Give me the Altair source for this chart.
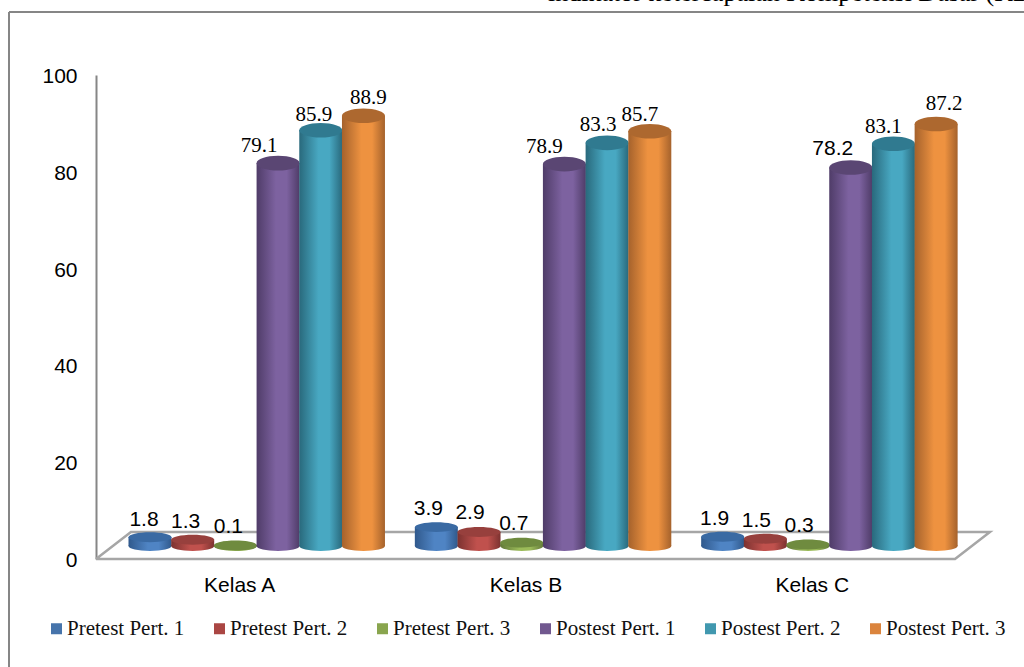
import json

import altair as alt
import pandas as pd

# Values per class, one list per test session
kelas = ["Kelas A", "Kelas B", "Kelas C"]
seri = ["Pretest Pert. 1", "Pretest Pert. 2", "Pretest Pert. 3",
        "Postest Pert. 1", "Postest Pert. 2", "Postest Pert. 3"]
pretest_1 = [1.8, 3.9, 1.9]
pretest_2 = [1.3, 2.9, 1.5]
pretest_3 = [0.1, 0.7, 0.3]
postest_1 = [79.1, 78.9, 78.2]
postest_2 = [85.9, 83.3, 83.1]
postest_3 = [88.9, 85.7, 87.2]
nilai = [pretest_1, pretest_2, pretest_3, postest_1, postest_2, postest_3]

warna = ["#4674AB", "#AA4643", "#89A54E", "#71588F", "#4198AF", "#DB843D"]
tepi = ["#30598c", "#7c3230", "#63793a", "#4f3c68", "#29697c", "#a5622c"]
terang = ["#4f84c4", "#c0514d", "#9bbb59", "#7d62a0", "#48a8c2", "#ee9240"]
tutup = ["#3a6aa3", "#97403d", "#6f8b3f", "#5a4673", "#307a90", "#ad682f"]

# Nudges (px) that keep each value label clear of its neighbour, per session then class
geser_x = [[-6, -8, -8], [-7, -9, -9], [-7, -8, -9],
           [-19, -20, -18], [-7, -9, -10], [5, -10, 8]]
geser_y = [[1, 0, 1], [1, 0, 1], [0, 0, 0],
           [0, 0, 0], [2, -1, 0], [-1, 1, -3]]
# Labels set in the serif face, as session/class pairs
serif = {(3, 0), (4, 0), (5, 0), (3, 1), (4, 1), (5, 1), (4, 2), (5, 2)}

LEBAR, TINGGI = 859, 484
PX_X, PX_Y = LEBAR / 3, TINGGI / 100
LEBAR_TABUNG = 43
NAIK = -13  # cylinders stand on the floor, above the front edge

baris = []
for j, s in enumerate(seri):
    for i, k in enumerate(kelas):
        baris.append({
            "kelas": k, "seri": s, "j": j, "nilai": nilai[j][i], "dasar": 0,
            "posisi": i + 0.1886 + 0.1491 * j,
            "label_x": i + 0.1886 + 0.1491 * j + geser_x[j][i] / PX_X,
            "label_y": nilai[j][i] - geser_y[j][i] / PX_Y,
            "huruf": "serif" if (j, i) in serif else "sans",
        })
df = pd.DataFrame(baris)

warna_rangka = "#a6a6a6"
warna_sumbu = "#868686"

skala_x = alt.Scale(domain=[0, 3], nice=False, zero=False, padding=0)
skala_y = alt.Scale(domain=[0, 100], nice=False, padding=0)

sumbu_x = alt.Axis(
    values=[0.5, 1.5, 2.5],
    labelExpr=json.dumps(kelas) + "[floor(datum.value)]",
    title=None, grid=False, domain=False, ticks=False,
    labelFont="Liberation Sans", labelFontSize=21,
    labelColor="#000000", labelPadding=15,
)
sumbu_y = alt.Axis(
    values=[0, 20, 40, 60, 80, 100],
    title=None, grid=False, ticks=False,
    domainColor=warna_sumbu, domainWidth=2,
    labelFont="Liberation Sans", labelFontSize=21,
    labelColor="#000000", labelPadding=19, labelOffset=1.5,
)


def sb_x(kolom="posisi"):
    return alt.X(f"{kolom}:Q", scale=skala_x, axis=sumbu_x, title=None)


def sb_y(kolom="nilai"):
    return alt.Y(f"{kolom}:Q", scale=skala_y, axis=sumbu_y, title=None, stack=None)


def gradasi(j):
    return {
        "gradient": "linear", "x1": 0, "x2": 1, "y1": 0, "y2": 0,
        "stops": [
            {"offset": 0, "color": tepi[j]},
            {"offset": 0.45, "color": terang[j]},
            {"offset": 0.7, "color": terang[j]},
            {"offset": 1, "color": tepi[j]},
        ],
    }


def elips(rasio):
    return f"M-1,0A1,{rasio} 0 1 1 1,0A1,{rasio} 0 1 1 -1,0Z"


# Floor of the 3D box, walked around its four corners
lantai = pd.DataFrame({
    "u": [0, 3, 3.122, 0.122, 0],
    "v": [0, 0, 5.6, 5.6, 0],
    "urut": [0, 1, 2, 3, 4],
})

# Foot of every cylinder, in pixels from the top of the plot
KAKI = alt.value(TINGGI + NAIK)

lapisan = [
    alt.Chart(lantai).mark_line(color=warna_rangka, strokeWidth=2.5).encode(
        x=sb_x("u"), y=sb_y("v"), order="urut:Q",
    ),
    # Flat bars carry the legend colours; the shaded cylinders sit on top of them
    alt.Chart(df).mark_bar(
        orient="vertical", size=LEBAR_TABUNG - 4, yOffset=NAIK,
    ).encode(
        x=sb_x(),
        y=sb_y(),
        y2=KAKI,
        color=alt.Color(
            "seri:N",
            scale=alt.Scale(domain=seri, range=warna),
            legend=alt.Legend(
                title=None, orient="none", direction="horizontal",
                legendX=-50, legendY=543, columns=6,
                symbolType="square", symbolSize=121, symbolStrokeWidth=0,
                symbolOpacity=1, labelOffset=0, columnPadding=24,
                labelFont="Liberation Serif", labelFontSize=21,
                labelColor="#111111", labelLimit=0, gridAlign="each",
            ),
        ),
    ),
]

for j in range(len(seri)):
    bagian = df[df["j"] == j]
    rasio_atas = 0.23 if j < 3 else 0.34
    lapisan += [
        alt.Chart(bagian).mark_point(
            shape=elips(0.23), size=LEBAR_TABUNG ** 2, filled=True, fill=gradasi(j),
            opacity=1, strokeWidth=0, yOffset=NAIK,
        ).encode(x=sb_x(), y=sb_y("dasar")),
        alt.Chart(bagian).mark_bar(
            orient="vertical", size=LEBAR_TABUNG, color=gradasi(j), yOffset=NAIK,
        ).encode(x=sb_x(), y=sb_y(), y2=KAKI),
        alt.Chart(bagian).mark_point(
            shape=elips(rasio_atas), size=LEBAR_TABUNG ** 2, filled=True, fill=tutup[j],
            opacity=1, strokeWidth=0, yOffset=NAIK,
        ).encode(x=sb_x(), y=sb_y()),
    ]

for jenis, keluarga, naik_teks in [("serif", "Liberation Serif", -17), ("sans", "Liberation Sans", -18.5)]:
    lapisan.append(
        alt.Chart(df[df["huruf"] == jenis]).mark_text(
            font=keluarga, fontSize=21, color="#000000", baseline="middle",
            yOffset=NAIK + naik_teks,
        ).encode(
            x=sb_x("label_x"), y=sb_y("label_y"),
            text=alt.Text("nilai:Q", format=".1f"),
        )
    )

# Page furniture: the surrounding box and the sentence running above it
bingkai = [
    alt.Chart(pd.DataFrame({"a": [0]})).mark_rule(color=warna_sumbu, strokeWidth=2).encode(
        x=alt.value(-87), x2=alt.value(LEBAR + 69), y=alt.value(-63),
    ),
    alt.Chart(pd.DataFrame({"a": [0]})).mark_rule(color=warna_sumbu, strokeWidth=2).encode(
        x=alt.value(-87), y=alt.value(-63), y2=alt.value(TINGGI + 108),
    ),
    alt.Chart(pd.DataFrame({"a": ["indikator ketercapaian Kompetensi Dasar (KD)"]})).mark_text(
        font="Liberation Serif", fontSize=26, color="#000000", align="left", baseline="alphabetic",
    ).encode(x=alt.value(452), y=alt.value(-74), text="a:N"),
]

chart = (
    alt.layer(*lapisan, *bingkai)
    .properties(
        width=LEBAR, height=TINGGI,
        padding={"left": 96, "top": 75, "right": 69, "bottom": 108},
        autosize=alt.AutoSizeParams(type="none"),
        background="#ffffff",
    )
    .configure_view(stroke=None)
)

chart.save("out.html", embed_options={"renderer": "svg", "actions": False})
